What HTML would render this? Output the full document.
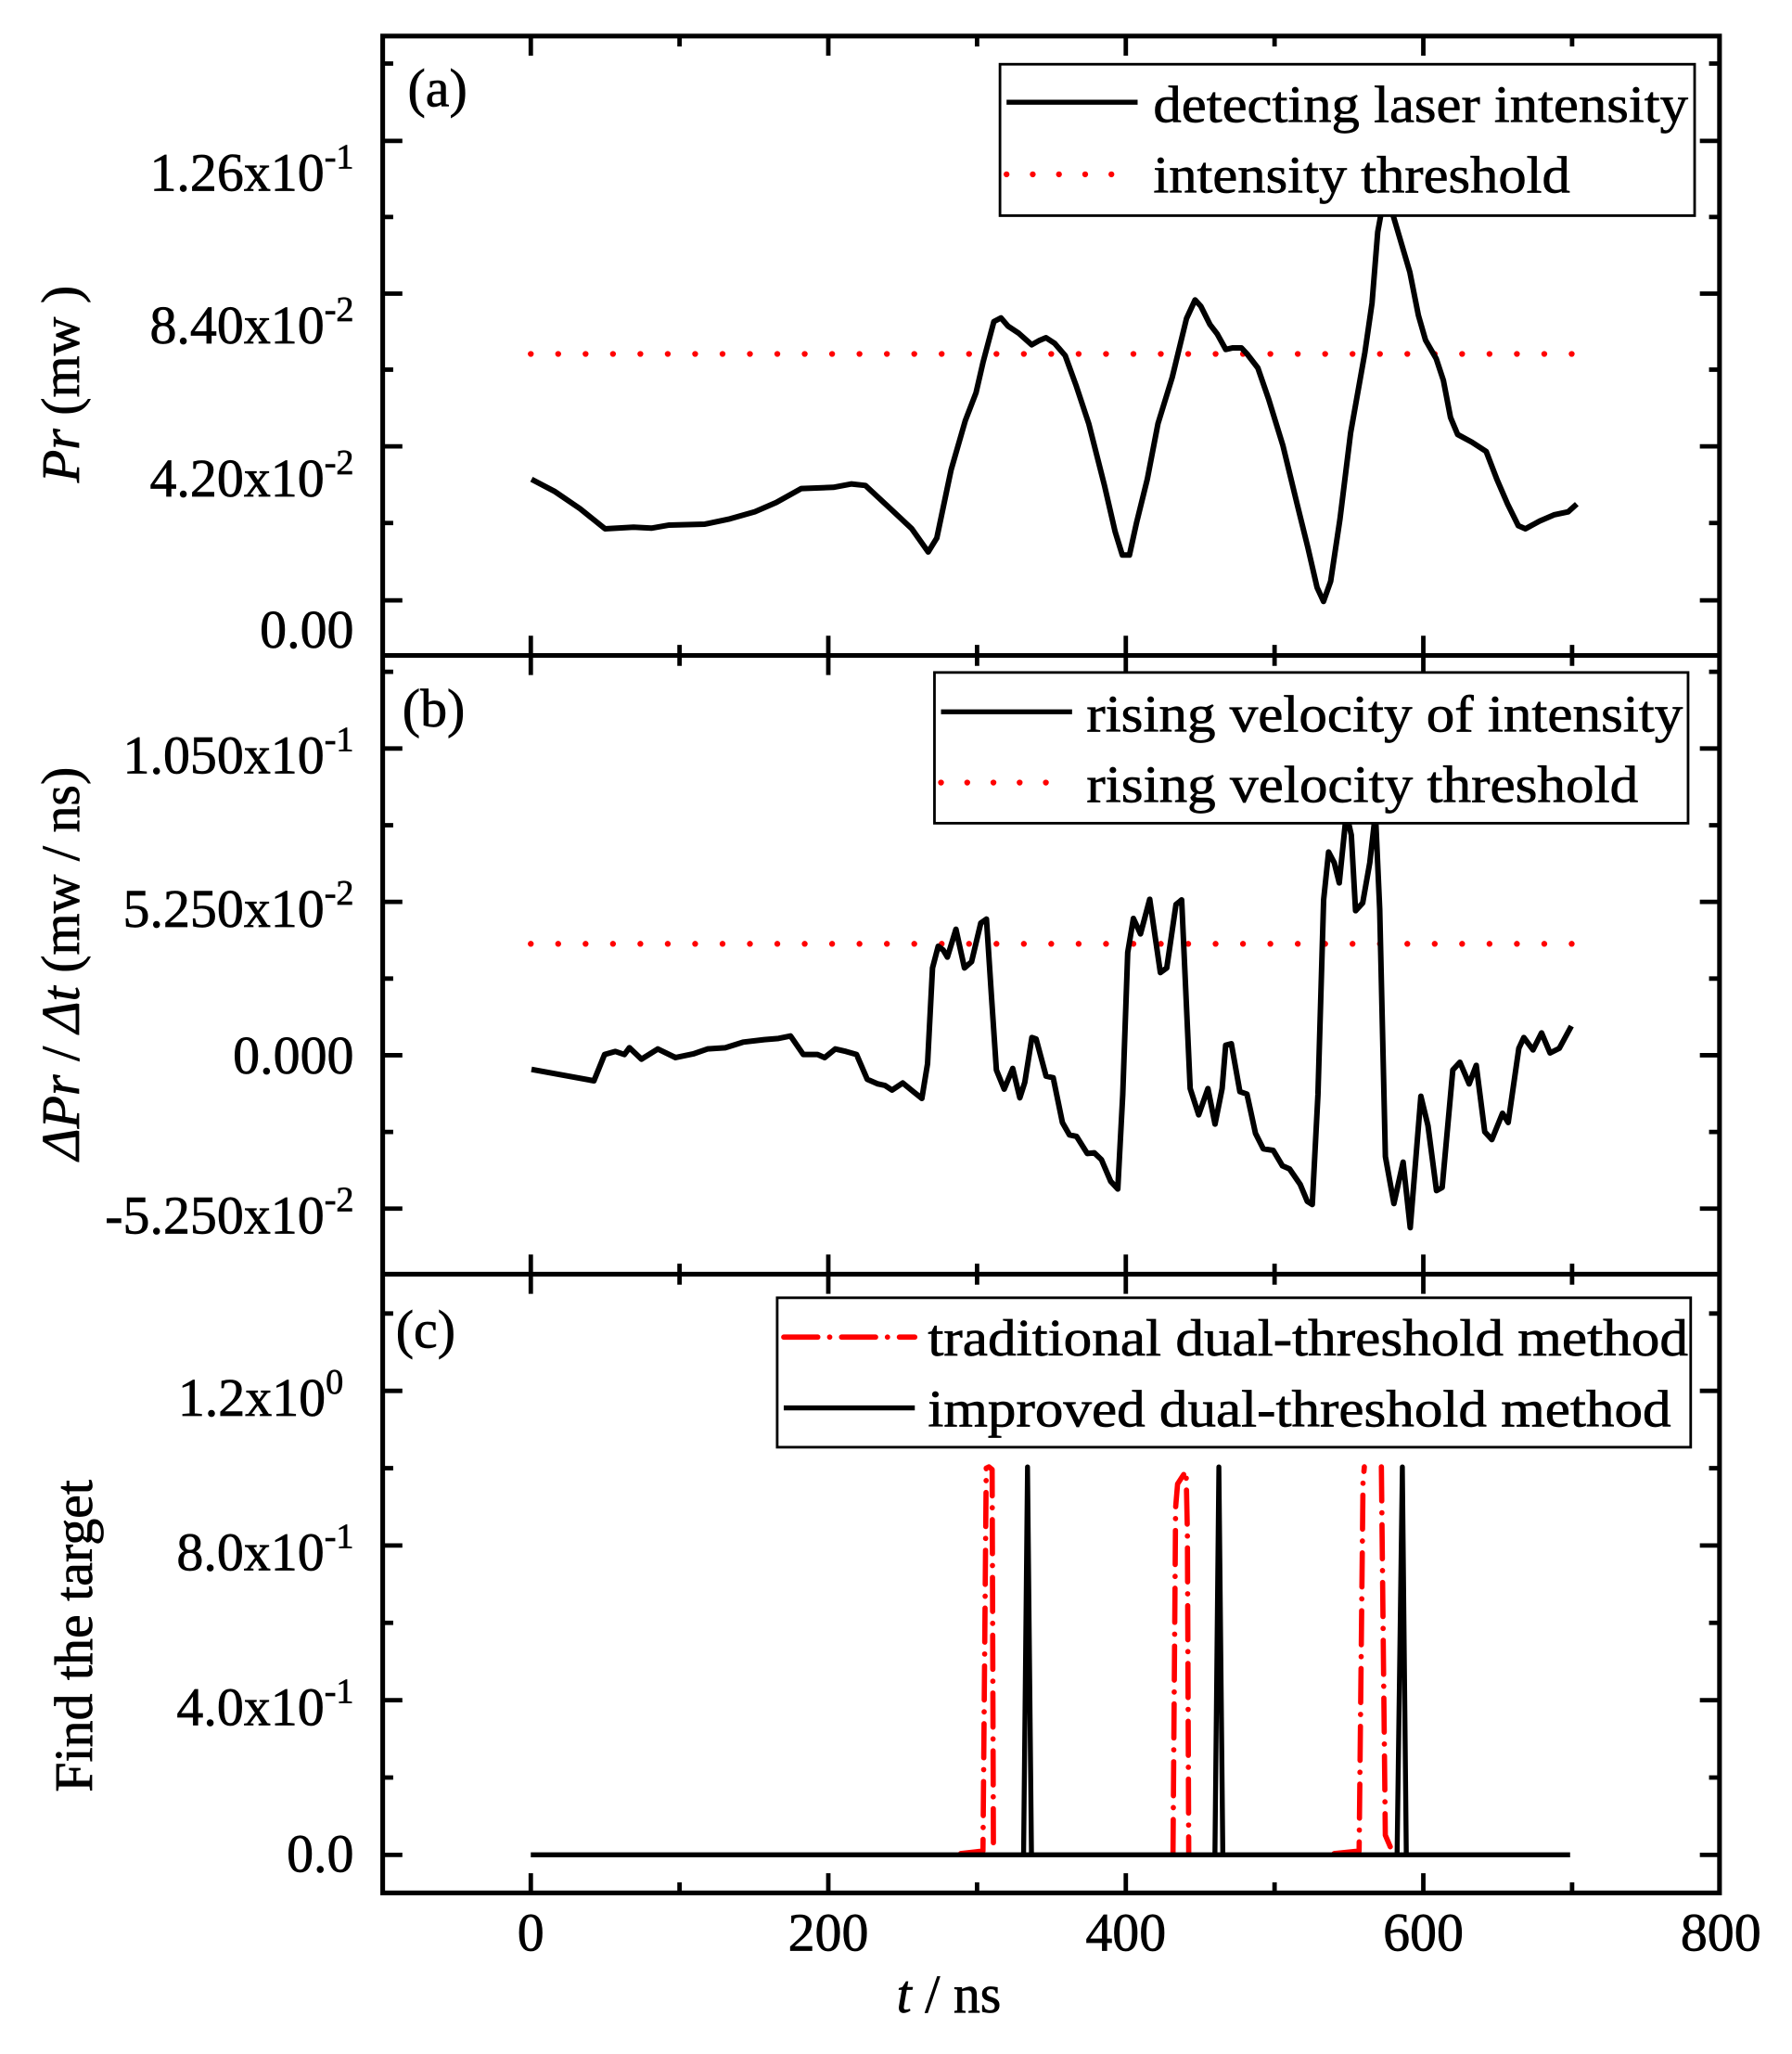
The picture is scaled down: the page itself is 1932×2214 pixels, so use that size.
<!DOCTYPE html>
<html><head><meta charset="utf-8"><style>
html,body{margin:0;padding:0;background:#fff}
svg{display:block}
text{font-family:"Liberation Serif",serif;fill:#000;stroke:#000;stroke-width:0.5px}
</style></head><body>
<svg width="1932" height="2214" viewBox="0 0 1367.3 1566.9" preserveAspectRatio="none" xmlns="http://www.w3.org/2000/svg">
<rect x="0" y="0" width="1367.3" height="1566.9" fill="#fff"/>

<line x1="405" y1="270" x2="1200" y2="270" stroke="#f00" stroke-width="4.5" stroke-linecap="round" stroke-dasharray="0 20.9"/>
<line x1="405" y1="720" x2="1200" y2="720" stroke="#f00" stroke-width="4.5" stroke-linecap="round" stroke-dasharray="0 20.9"/>

<g transform="translate(396.3,212.3) scale(0.5444,0.2359)">
<path vector-effect="non-scaling-stroke" fill="none" stroke="#000" stroke-width="6" stroke-linejoin="round" d="M17,650 L50,690 L85,745 L120,810 L160,805 L185,808 L210,798 L260,795 L295,778 L330,755 L360,725 L395,680 L440,676 L465,665 L485,670 L520,745 L550,810 L573,885 L585,840 L605,620 L625,460 L640,370 L650,270 L665,140 L675,128 L685,155 L700,178 L718,215 L728,202 L738,192 L750,210 L765,250 L780,345 L798,470 L820,670 L835,820 L845,895 L855,895 L865,790 L880,650 L895,470 L915,320 L935,130 L947,70 L955,90 L968,150 L978,180 L990,230 L1000,225 L1012,225 L1020,245 L1035,290 L1050,390 L1070,540 L1090,730 L1105,870 L1118,1000 L1127,1045 L1137,980 L1150,780 L1165,500 L1185,240 L1195,80 L1203,-150 L1212,-264 L1225,-200 L1248,-20 L1260,120 L1270,200 L1285,260 L1295,330 L1305,450 L1315,505 L1335,530 L1355,560 L1370,650 L1385,730 L1400,800 L1410,810 L1430,785 L1450,765 L1470,755 L1482,730"/>
</g>

<g transform="translate(396.3,622.8) scale(0.5416,0.2359)">
<path vector-effect="non-scaling-stroke" fill="none" stroke="#000" stroke-width="6" stroke-linejoin="round" d="M17,818 L105,855 L120,770 L135,760 L148,770 L155,748 L172,785 L195,752 L220,780 L245,768 L265,752 L290,748 L315,730 L345,722 L365,718 L382,710 L400,770 L420,770 L430,780 L445,752 L460,760 L475,770 L490,850 L505,865 L515,870 L525,885 L540,862 L555,890 L567,912 L575,800 L582,490 L590,420 L597,432 L603,455 L615,365 L627,490 L637,470 L650,345 L658,332 L665,580 L672,820 L683,882 L695,815 L705,910 L712,860 L722,715 L728,720 L742,840 L752,845 L765,990 L775,1030 L785,1035 L800,1090 L810,1088 L820,1110 L833,1180 L843,1205 L850,900 L857,440 L865,330 L875,380 L888,268 L903,505 L912,490 L925,285 L933,270 L945,880 L957,965 L970,880 L980,995 L990,880 L995,740 L1003,735 L1015,890 L1025,898 L1037,1025 L1048,1075 L1062,1080 L1075,1130 L1085,1140 L1100,1190 L1110,1245 L1117,1255 L1125,900 L1133,270 L1140,115 L1148,150 L1155,215 L1165,-10 L1172,60 L1178,305 L1188,280 L1198,150 L1206,-10 L1212,300 L1220,1100 L1232,1252 L1245,1118 L1255,1330 L1270,905 L1280,1000 L1292,1210 L1300,1200 L1315,820 L1325,795 L1338,865 L1348,805 L1360,1020 L1370,1045 L1385,960 L1393,990 L1408,750 L1415,715 L1428,755 L1440,700 L1452,765 L1465,750 L1482,678"/>
</g>

<g fill="none" stroke="#f00" stroke-width="4" stroke-dasharray="26 9 0.1 9" stroke-linecap="round" stroke-linejoin="round">
<path d="M733,1414 L750,1412 L752.5,1120 L754.5,1119 L757,1121 L758,1414"/>
<path d="M895,1414 L897,1150 L898.5,1132 L905,1122 L906,1170 L907,1414"/>
<path d="M1018,1414 L1037,1412 L1040,1130 L1041,1119 M1054,1119 L1057,1400 L1063,1414"/>
</g>
<g fill="none" stroke="#000" stroke-width="3.8" stroke-linejoin="round">
<path d="M405,1415 L1198,1415"/>
<path d="M781,1414 L784,1119 L787,1414"/>
<path d="M927,1414 L930,1119 L933,1414"/>
<path d="M1066,1414 L1070,1119 L1073,1414"/>
</g>

<g fill="none" stroke="#000" stroke-width="3.6">
<rect x="292" y="27.5" width="1020" height="1416.5"/>
<line x1="292" y1="500" x2="1312" y2="500"/>
<line x1="292" y1="972" x2="1312" y2="972"/>
</g>

<g stroke="#000" stroke-width="3.4" fill="none">
<path d="
M405,27.5v15 M632,27.5v15 M859,27.5v15 M1086,27.5v15 M518.5,27.5v8 M745.5,27.5v8 M972.5,27.5v8 M1199.5,27.5v8
M405,500v-15 M632,500v-15 M859,500v-15 M1086,500v-15 M518.5,500v-8 M745.5,500v-8 M972.5,500v-8 M1199.5,500v-8
M405,500v15 M632,500v15 M859,500v15 M1086,500v15 M518.5,500v8 M745.5,500v8 M972.5,500v8 M1199.5,500v8
M405,972v-15 M632,972v-15 M859,972v-15 M1086,972v-15 M518.5,972v-8 M745.5,972v-8 M972.5,972v-8 M1199.5,972v-8
M405,972v15 M632,972v15 M859,972v15 M1086,972v15 M518.5,972v8 M745.5,972v8 M972.5,972v8 M1199.5,972v8
M405,1444v-15 M632,1444v-15 M859,1444v-15 M1086,1444v-15 M518.5,1444v-8 M745.5,1444v-8 M972.5,1444v-8 M1199.5,1444v-8
M292,107.5h15 M292,224h15 M292,340.5h15 M292,458h15 M292,48.5h8 M292,165.5h8 M292,282h8 M292,399h8
M1312,107.5h-15 M1312,224h-15 M1312,340.5h-15 M1312,458h-15 M1312,48.5h-8 M1312,165.5h-8 M1312,282h-8 M1312,399h-8
M292,571h15 M292,688h15 M292,805h15 M292,922h15 M292,512.5h8 M292,629.5h8 M292,746.5h8 M292,863.5h8
M1312,571h-15 M1312,688h-15 M1312,805h-15 M1312,922h-15 M1312,512.5h-8 M1312,629.5h-8 M1312,746.5h-8 M1312,863.5h-8
M292,1061h15 M292,1179h15 M292,1297h15 M292,1415h15 M292,1002h8 M292,1120h8 M292,1238h8 M292,1356h8
M1312,1061h-15 M1312,1179h-15 M1312,1297h-15 M1312,1415h-15 M1312,1002h-8 M1312,1120h-8 M1312,1238h-8 M1312,1356h-8
"/>
</g>

<rect x="763" y="49" width="530" height="115.5" fill="#fff" stroke="#000" stroke-width="2"/>
<line x1="768" y1="78" x2="868" y2="78" stroke="#000" stroke-width="3.8"/>
<line x1="768" y1="133" x2="868" y2="133" stroke="#f00" stroke-width="4.5" stroke-linecap="round" stroke-dasharray="0 20"/>
<text x="880" y="93" font-size="40" textLength="408" lengthAdjust="spacingAndGlyphs">detecting laser intensity</text>
<text x="880" y="147" font-size="40" textLength="318" lengthAdjust="spacingAndGlyphs">intensity threshold</text>

<rect x="713" y="513" width="575" height="115" fill="#fff" stroke="#000" stroke-width="2"/>
<line x1="718" y1="543" x2="818" y2="543" stroke="#000" stroke-width="3.8"/>
<line x1="718" y1="597" x2="818" y2="597" stroke="#f00" stroke-width="4.5" stroke-linecap="round" stroke-dasharray="0 20"/>
<text x="829" y="558" font-size="40" textLength="455" lengthAdjust="spacingAndGlyphs">rising velocity of intensity</text>
<text x="829" y="612" font-size="40" textLength="421" lengthAdjust="spacingAndGlyphs">rising velocity threshold</text>

<rect x="593" y="990" width="697" height="114" fill="#fff" stroke="#000" stroke-width="2"/>
<line x1="598" y1="1020" x2="698" y2="1020" stroke="#f00" stroke-width="4" stroke-linecap="round" stroke-dasharray="26 9 0.1 9"/>
<line x1="598" y1="1074" x2="698" y2="1074" stroke="#000" stroke-width="3.8"/>
<text x="708" y="1034" font-size="40" textLength="580" lengthAdjust="spacingAndGlyphs">traditional dual-threshold method</text>
<text x="708" y="1088" font-size="40" textLength="567" lengthAdjust="spacingAndGlyphs">improved dual-threshold method</text>

<text x="311" y="81" font-size="41">(a)</text>
<text x="307" y="554" font-size="41">(b)</text>
<text x="302" y="1028" font-size="41">(c)</text>

<g font-size="41" text-anchor="end">
<text x="270" y="145.5">1.26x10<tspan font-size="27" dy="-17">-1</tspan></text>
<text x="270" y="262">8.40x10<tspan font-size="27" dy="-17">-2</tspan></text>
<text x="270" y="378.5">4.20x10<tspan font-size="27" dy="-17">-2</tspan></text>
<text x="270" y="494">0.00</text>
<text x="270" y="590">1.050x10<tspan font-size="27" dy="-17">-1</tspan></text>
<text x="270" y="707">5.250x10<tspan font-size="27" dy="-17">-2</tspan></text>
<text x="270" y="819">0.000</text>
<text x="270" y="941">-5.250x10<tspan font-size="27" dy="-17">-2</tspan></text>
<text x="262" y="1080">1.2x10<tspan font-size="27" dy="-17">0</tspan></text>
<text x="270" y="1198">8.0x10<tspan font-size="27" dy="-17">-1</tspan></text>
<text x="270" y="1316">4.0x10<tspan font-size="27" dy="-17">-1</tspan></text>
<text x="270" y="1428">0.0</text>
</g>

<g font-size="41" text-anchor="middle">
<text x="405" y="1488">0</text>
<text x="632" y="1488">200</text>
<text x="859" y="1488">400</text>
<text x="1086" y="1488">600</text>
<text x="1313" y="1488">800</text>
</g>
<text x="724" y="1535" font-size="41" text-anchor="middle"><tspan font-style="italic">t</tspan> / ns</text>

<text transform="translate(60,293) rotate(-90)" font-size="41" text-anchor="middle"><tspan font-style="italic">Pr</tspan> (mw )</text>
<text transform="translate(60,735) rotate(-90)" font-size="41" text-anchor="middle"><tspan font-style="italic">ΔPr</tspan> / <tspan font-style="italic">Δt</tspan> (mw / ns)</text>
<text transform="translate(70,1248) rotate(-90)" font-size="41" text-anchor="middle">Find the target</text>
</svg>
</body></html>
